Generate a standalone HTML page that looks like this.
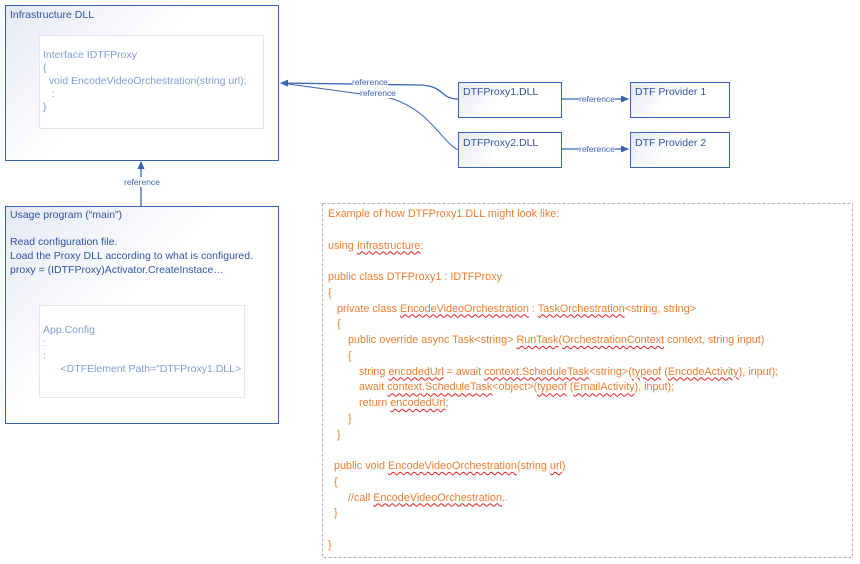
<!DOCTYPE html>
<html><head><meta charset="utf-8"><style>
body{margin:0;width:860px;height:564px;background:#fff;position:relative;overflow:hidden;font-family:"Liberation Sans",sans-serif}
.a{position:absolute;white-space:nowrap}
.box{position:absolute;border:1.3px solid #3a63b5;background:linear-gradient(135deg,#e6e9f6 0%,#fff 45%);box-sizing:border-box}
.inner{position:absolute;border:1px solid #e3e6ee;background:#fff;box-sizing:border-box}
.t{font-size:10.5px;color:#2f55a4}
.lt{font-size:10.5px;color:#7f9fd6}
.lbl{font-size:8.5px;color:#3a63b5;background:#fff}
.code{position:absolute;left:328px;top:207px;font-size:10.8px;color:#ed7d31;line-height:15.75px}
.code div{white-space:nowrap;height:15.75px}
.w{text-decoration:underline wavy #e02020;text-decoration-thickness:1px;text-underline-offset:2px}
</style></head><body>
<svg width="860" height="564" style="position:absolute;left:0;top:0">
<defs><marker id="m" markerWidth="8" markerHeight="8" refX="7" refY="4" orient="auto" markerUnits="userSpaceOnUse"><path d="M0,0.5 L8,4 L0,7.5z" fill="#3a63b5"/></marker></defs>
<rect x="322.5" y="203.5" width="530" height="354" fill="none" stroke="#b0b0b0" stroke-dasharray="3,2"/>
<path d="M141,206 L141,162" stroke="#3a63b5" stroke-width="1.3" fill="none" marker-end="url(#m)"/>
<path d="M458,99 C440,99 445,86 420,85 L281,83" stroke="#3a63b5" stroke-width="1.3" fill="none" marker-end="url(#m)"/>
<path d="M458,150 C440,140 430,110 390,98 L281,83" stroke="#3a63b5" stroke-width="1" fill="none"/>
<path d="M561,99 L628,99" stroke="#3a63b5" stroke-width="1.2" fill="none" marker-end="url(#m)"/>
<path d="M561,149 L628,149" stroke="#3a63b5" stroke-width="1.2" fill="none" marker-end="url(#m)"/>
</svg>
<div class="box" style="left:5px;top:5px;width:274px;height:156px"></div>
<div class="inner" style="left:39px;top:35px;width:225px;height:94px"></div>
<div class="a t" style="left:10px;top:9px">Infrastructure DLL</div>
<div class="a lt" style="left:43px;top:49px;line-height:13px">Interface IDTFProxy<br>{<br>&nbsp;&nbsp;void EncodeVideoOrchestration(string url);<br>&nbsp;&nbsp;&nbsp;:<br>}</div>
<div class="a lbl" style="left:124px;top:177px">reference</div>
<div class="box" style="left:5px;top:206px;width:274px;height:218px"></div>
<div class="inner" style="left:39px;top:305px;width:206px;height:93px"></div>
<div class="a t" style="left:10px;top:209px">Usage program (“main”)</div>
<div class="a t" style="left:10px;top:235px;line-height:14px">Read configuration file.<br>Load the Proxy DLL according to what is configured.<br>proxy = (IDTFProxy)Activator.CreateInstace…</div>
<div class="a lt" style="left:43px;top:324px;line-height:13px">App.Config<br>:<br>:<br>&nbsp;&nbsp;&nbsp;&nbsp;&nbsp;&nbsp;&lt;DTFElement Path=”DTFProxy1.DLL&gt;</div>
<div class="box" style="left:458px;top:82px;width:104px;height:36px"></div>
<div class="box" style="left:458px;top:132px;width:104px;height:36px"></div>
<div class="box" style="left:630px;top:82px;width:100px;height:36px"></div>
<div class="box" style="left:630px;top:132px;width:100px;height:36px"></div>
<div class="a t" style="left:463px;top:86px">DTFProxy1.DLL</div>
<div class="a t" style="left:463px;top:137px">DTFProxy2.DLL</div>
<div class="a t" style="left:635px;top:86px">DTF Provider 1</div>
<div class="a t" style="left:635px;top:137px">DTF Provider 2</div>
<div class="a lbl" style="left:352px;top:77px">reference</div>
<div class="a lbl" style="left:360px;top:88px">reference</div>
<div class="a lbl" style="left:579px;top:94px">reference</div>
<div class="a lbl" style="left:579px;top:144px">reference</div>
<div class="code">
<div>Example of how DTFProxy1.DLL might look like:</div>
<div></div>
<div>using <span class="w">Infrastructure</span>;</div>
<div></div>
<div>public class DTFProxy1 : IDTFProxy</div>
<div>{</div>
<div style="margin-left:9px">private class <span class="w">EncodeVideoOrchestration</span> : <span class="w">TaskOrchestration</span>&lt;string, string&gt;</div>
<div style="margin-left:9px">{</div>
<div style="margin-left:20px">public override async Task&lt;string&gt; <span class="w">RunTask</span>(<span class="w">OrchestrationContext</span> context, string input)</div>
<div style="margin-left:20px">{</div>
<div style="margin-left:31px">string <span class="w">encodedUrl</span> = await <span class="w">context.ScheduleTask</span>&lt;string&gt;(<span class="w">typeof</span> (<span class="w">EncodeActivity</span>), input);</div>
<div style="margin-left:31px">await <span class="w">context.ScheduleTask</span>&lt;object&gt;(<span class="w">typeof</span> (<span class="w">EmailActivity</span>), input);</div>
<div style="margin-left:31px">return <span class="w">encodedUrl</span>;</div>
<div style="margin-left:20px">}</div>
<div style="margin-left:9px">}</div>
<div></div>
<div style="margin-left:6px">public void <span class="w">EncodeVideoOrchestration</span>(string <span class="w">url</span>)</div>
<div style="margin-left:6px">{</div>
<div style="margin-left:20px">//call <span class="w">EncodeVideoOrchestration</span>..</div>
<div style="margin-left:6px">}</div>
<div></div>
<div>}</div>
</div>
</body></html>
